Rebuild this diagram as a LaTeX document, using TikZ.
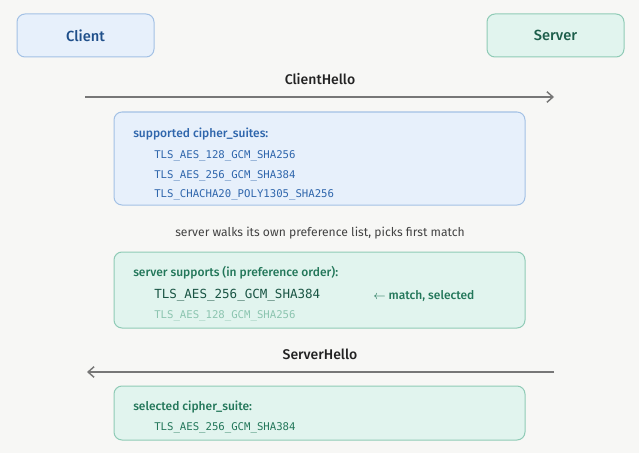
\documentclass[tikz,border=0pt]{standalone}
\usepackage{fontspec}
\setmainfont{Fira Sans}[BoldFont={Fira Sans Medium}]
\setmonofont{DejaVu Sans Mono}
\usepackage{tikz}
\usetikzlibrary{positioning, arrows.meta}

\definecolor{bgcol}{HTML}{F7F7F5}
\definecolor{cfill}{HTML}{E7F0FB}
\definecolor{cline}{HTML}{A3C1E5}
\definecolor{ctext}{HTML}{1F4F8A}
\definecolor{clist}{HTML}{2F66AC}
\definecolor{sfill}{HTML}{E1F4EE}
\definecolor{sline}{HTML}{8FCBB6}
\definecolor{stext}{HTML}{1D5E4B}
\definecolor{slist}{HTML}{23775A}
\definecolor{sfaint}{HTML}{8CC5B0}
\definecolor{msgcol}{HTML}{222222}
\definecolor{arrcol}{HTML}{777777}

\tikzset{
  party/.style={rounded corners=6pt, line width=0.75pt, minimum width=137*0.75pt,
    minimum height=43*0.75pt, font=\bfseries\fontsize{11}{13}\selectfont},
  panel/.style={rounded corners=6pt, line width=0.75pt, minimum width=411*0.75pt},
  head/.style={anchor=west, inner sep=0pt, font=\bfseries\fontsize{9}{11}\selectfont},
  suite/.style={anchor=west, inner sep=0pt, font=\ttfamily\fontsize{8}{10}\selectfont},
  msg/.style={inner sep=0pt, text=msgcol, font=\bfseries\fontsize{10.5}{12}\selectfont},
  flow/.style={arrcol, line width=1.1pt, -{Straight Barb[length=4.5pt, width=8pt]}}
}

\begin{document}
\begin{tikzpicture}[x=0.75pt, y=-0.75pt]
    \fill[bgcol] (0,0) rectangle (639,453);
    \useasboundingbox (0,0) rectangle (639,453);

    \node[party, draw=cline, fill=cfill, text=ctext] (client) at (85.5,35.5) {Client};
    \node[party, draw=sline, fill=sfill, text=stext] (server) at (555.5,35.5) {Server};

    % ClientHello
    \node[msg] (hello1) at (320,79) {ClientHello};
    \coordinate (c1) at (85,97);
    \coordinate (s1) at (554,97);
    \draw[flow] (c1) -- (s1);

    \node[panel, draw=cline, fill=cfill, minimum height=93*0.75pt] (offer) at (319.5,158.5) {};
    \node[head, text=clist] (offerhead) at (133,134) {supported cipher\_suites:};
    \node[suite, text=clist] (o1) at (154,156) {TLS\_AES\_128\_GCM\_SHA256};
    \node[suite, text=clist] (o2) at (154,175.5) {TLS\_AES\_256\_GCM\_SHA384};
    \node[suite, text=clist] (o3) at (154,195) {TLS\_CHACHA20\_POLY1305\_SHA256};

    \node[inner sep=0pt, text=msgcol!85, font=\fontsize{9.1}{11}\selectfont] (walk) at (320,233)
        {server walks its own preference list, picks first match};

    \node[panel, draw=sline, fill=sfill, minimum height=76*0.75pt] (pref) at (319.5,290) {};
    \node[head, text=slist] (prefhead) at (133,273) {server supports (in preference order):};
    \node[suite, text=stext!90!black, font=\ttfamily\fontsize{9.4}{11}\selectfont] (p1) at (154,295.5) {TLS\_AES\_256\_GCM\_SHA384};
    \node[head, text=slist] (pick) at (373,295.5) {$\leftarrow$ match, selected};
    \node[suite, text=sfaint] (p2) at (154,315.5) {TLS\_AES\_128\_GCM\_SHA256};

    % ServerHello
    \node[msg] (hello2) at (320,354) {ServerHello};
    \coordinate (s2) at (554,372);
    \coordinate (c2) at (87,372);
    \draw[flow] (s2) -- (c2);

    \node[panel, draw=sline, fill=sfill, minimum height=54*0.75pt] (answer) at (319.5,413) {};
    \node[head, text=slist] (answerhead) at (133,407) {selected cipher\_suite:};
    \node[suite, text=slist] (a1) at (154,428) {TLS\_AES\_256\_GCM\_SHA384};
\end{tikzpicture}
\end{document}
